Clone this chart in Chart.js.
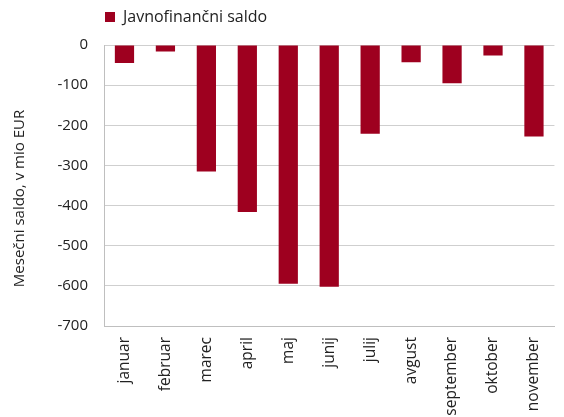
<!DOCTYPE html>
<html>
<head>
<meta charset="utf-8">
<script src="https://cdn.jsdelivr.net/npm/chart.js"></script>
<style>
  html, body { margin: 0; padding: 0; background: #fff; overflow: hidden; }
  #wrap { width: 564px; height: 417px; position: relative; }
</style>
</head>
<body>
<div id="wrap"><canvas id="myChart"></canvas></div>
<script>
// podatki
const months = ['januar', 'februar', 'marec', 'april', 'maj', 'junij', 'julij', 'avgust', 'september', 'oktober', 'november'];
const saldo = [-45, -16, -315, -416, -595, -602, -221, -43, -95, -26, -228];
const yTicks = [0, -100, -200, -300, -400, -500, -600, -700];

const barColor = '#9e001f';
const font = "'Open Sans', 'DejaVu Sans', sans-serif";

// fixed legend height so the plot starts at the right place
// + y title a bit lower, like in the original
const tweaks = {
    id: 'tweaks',
    beforeInit(chart) {
        const fit = chart.legend.fit;
        chart.legend.fit = function () {
            fit.bind(chart.legend)();
            this.height = 37;
        };
    },
    afterLayout(chart) {
        const y = chart.scales.y;
        if (y._titleShifted) return;
        const drawTitle = y.drawTitle;
        y.drawTitle = function () {
            const c = this.ctx;
            c.save();
            c.translate(0, 13);
            drawTitle.call(this);
            c.restore();
        };
        y._titleShifted = true;
    }
};

const ctx = document.getElementById('myChart').getContext('2d');
new Chart(ctx, {
    type: 'bar',
    data: {
        labels: months,
        datasets: [{
            label: 'Javnofinančni saldo',
            data: saldo,
            backgroundColor: barColor,
            borderWidth: 0,
            categoryPercentage: 1,
            barPercentage: 0.47
        }]
    },
    options: {
        responsive: true,
        maintainAspectRatio: false,
        animation: false,
        layout: { padding: { top: 8, right: 4, left: 0, bottom: 0 } },
        plugins: {
            legend: {
                position: 'top',
                align: 'start',
                fullSize: false,
                labels: {
                    boxWidth: 10,
                    boxHeight: 10,
                    padding: 1,
                    color: '#222',
                    font: { family: font, size: 16 }
                }
            },
            tooltip: { enabled: false }
        },
        scales: {
            x: {
                grid: { display: false, drawTicks: false },
                border: { display: true, color: '#bfbfbf' },
                ticks: {
                    minRotation: 90,
                    maxRotation: 90,
                    autoSkip: false,
                    padding: 11,
                    color: '#222',
                    font: { family: font, size: 15.5 }
                },
                afterFit: function (scale) { scale.height = 91; }
            },
            y: {
                min: -700,
                max: 0,
                afterBuildTicks: function (scale) {
                    scale.ticks = yTicks.map(v => ({ value: v }));
                },
                grid: { color: '#cfcfcf', drawTicks: false },
                border: { display: true, color: '#bfbfbf' },
                ticks: {
                    padding: 16,
                    color: '#222',
                    font: { family: font, size: 15 },
                    callback: v => String(v)
                },
                title: {
                    display: true,
                    text: 'Mesečni saldo, v mio EUR',
                    color: '#222',
                    font: { family: font, size: 15 },
                    padding: { top: 11, bottom: 0 }
                },
                afterFit: function (scale) { scale.width = 104; }
            }
        }
    },
    plugins: [tweaks]
});
</script>
</body>
</html>
